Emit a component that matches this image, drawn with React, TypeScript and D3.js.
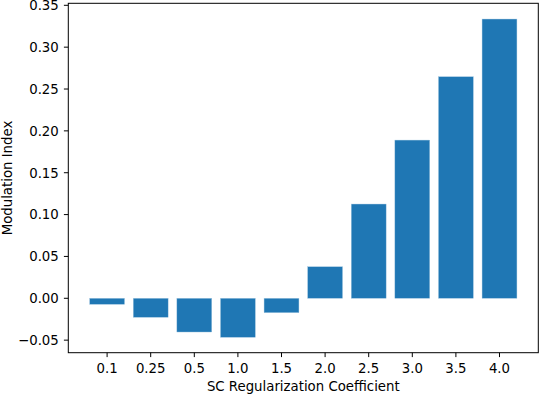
import React from "react";
import * as d3 from "d3";

const categories = ["0.1", "0.25", "0.5", "1.0", "1.5", "2.0", "2.5", "3.0", "3.5", "4.0"];
const values = [-0.0072, -0.0227, -0.0403, -0.0466, -0.0172, 0.0377, 0.1126, 0.189, 0.2647, 0.3336];
const yTicks = [-0.05, 0.0, 0.05, 0.1, 0.15, 0.2, 0.25, 0.3, 0.35];

const W = 540, H = 394;
const left = 68.3, right = 538.3, top = 3.3, bottom = 352.7;
const font = "DejaVu Sans, sans-serif";
const fs = 13.3;

export default function App() {
  const x = d3.scaleLinear().domain([-0.89, 9.89]).range([left, right]);
  const y = d3.scaleLinear().domain([0.3524, -0.065]).range([top, bottom]);
  const bw = x(0.8) - x(0);
  return (
    <svg width={W} height={H} style={{ position: "absolute", left: 0, top: 0 }}>
      <rect width={W} height={H} fill="white" />
      {values.map((v, i) => (
        <rect key={i} x={x(i) - bw / 2} width={bw}
          y={Math.min(y(v), y(0))} height={Math.abs(y(v) - y(0))}
          fill="#1f77b4" stroke="#a6c8e0" strokeWidth={0.4} />
      ))}
      <rect x={left} y={top} width={right - left} height={bottom - top} fill="none" stroke="black" strokeWidth={1} />
      {yTicks.map((t, i) => (
        <g key={i}>
          <line x1={left - 4.4} x2={left} y1={y(t)} y2={y(t)} stroke="black" strokeWidth={1} />
          <text x={left - 9.5} y={y(t)} dy="0.36em" textAnchor="end" fontFamily={font} fontSize={fs}>
            {(t < 0 ? "\u2212" : "") + Math.abs(t).toFixed(2)}
          </text>
        </g>
      ))}
      {categories.map((c, i) => (
        <g key={i}>
          <line x1={x(i)} x2={x(i)} y1={bottom} y2={bottom + 4.4} stroke="black" strokeWidth={1} />
          <text x={x(i)} y={372.8} textAnchor="middle" fontFamily={font} fontSize={fs}>{c}</text>
        </g>
      ))}
      <text x={(left + right) / 2} y={390.5} textAnchor="middle" fontFamily={font} fontSize={fs}>SC Regularization Coefficient</text>
      <text transform={`translate(11.5,${(top + bottom) / 2}) rotate(-90)`} textAnchor="middle" fontFamily={font} fontSize={fs}>Modulation Index</text>
    </svg>
  );
}
